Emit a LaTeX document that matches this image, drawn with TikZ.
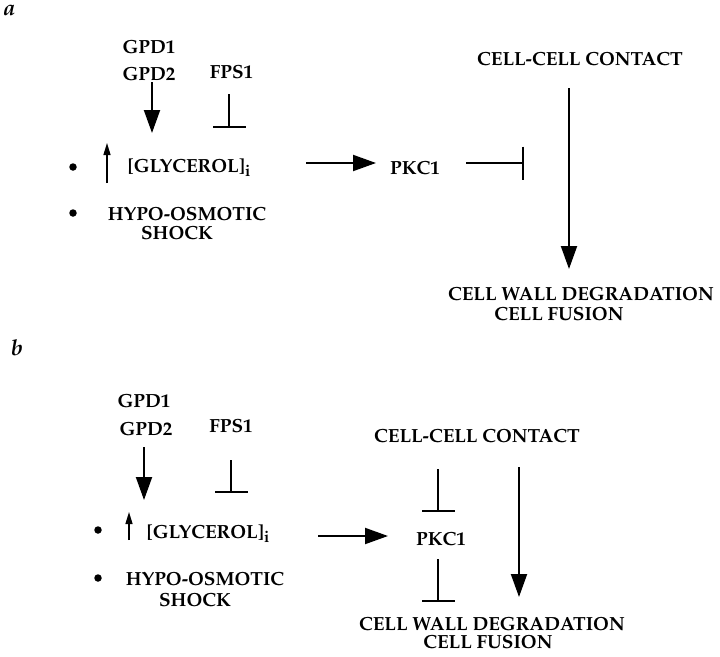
\documentclass[tikz,border=0pt]{standalone}
\usepackage[T1]{fontenc}
\usepackage{mathpazo}
\usetikzlibrary{arrows.meta}
\newcommand{\subi}{\raisebox{-4.5pt}{\fontsize{16}{16}\selectfont i}}
\tikzset{
  lbl/.style={font=\fontsize{19}{21}\selectfont\bfseries, inner sep=0pt, anchor=base},
  panel/.style={font=\fontsize{22}{24}\selectfont\bfseries\itshape, inner sep=0pt, anchor=base west},
  act/.style={line width=2pt, -{Triangle[length=23pt,width=16pt]}},
  small/.style={line width=1.3pt, -{Triangle[length=12pt,width=7pt]}},
  inh/.style={line width=2pt, -{Bar[width=33pt,line width=2.5pt]}},
  dot/.style={circle, fill=black, inner sep=0pt, minimum size=7.5pt},
}
\begin{document}
\begin{tikzpicture}[x=1pt,y=-1pt]
\useasboundingbox (0,0) rectangle (720,656);
% ---------------- panel a
\node[panel] (la) at (3,15) {a};
\node[lbl] (gpd1a) at (149,53) {GPD1};
\node[lbl] (gpd2a) at (149,80) {GPD2};
\node[lbl] (fps1a) at (231.5,78) {FPS1};
\node[dot] (d1a) at (73,167) {};
\node[dot] (d2a) at (73,213) {};
\node[lbl] (glya) at (189,172) {[GLYCEROL]\subi};
\node[lbl] (hypoa) at (187,220) {HYPO-OSMOTIC};
\node[lbl] (shocka) at (177,239) {SHOCK};
\node[lbl] (pkca) at (415,174) {PKC1};
\node[lbl] (cca) at (580,65.5) {CELL-CELL CONTACT};
\node[lbl] (cwa) at (581,300) {CELL WALL DEGRADATION};
\node[lbl] (cfa) at (559,320) {CELL FUSION};
\coordinate (ga1) at (152,82);   \coordinate (ga2) at (152,133);
\coordinate (fa1) at (229,94);   \coordinate (fa2) at (229,128);
\coordinate (ua1) at (107,183);  \coordinate (ua2) at (107,143);
\coordinate (pa1) at (306,163);  \coordinate (pa2) at (376,163);
\coordinate (ka1) at (466,163);  \coordinate (ka2) at (524,163);
\coordinate (ca1) at (569,88);   \coordinate (ca2) at (569,269);
\draw[act] (ga1) -- (ga2);
\draw[inh] (fa1) -- (fa2);
\draw[small] (ua1) -- (ua2);
\draw[act] (pa1) -- (pa2);
\draw[inh] (ka1) -- (ka2);
\draw[act] (ca1) -- (ca2);
% ---------------- panel b
\node[panel] (lb) at (11,355) {b};
\node[lbl] (gpd1b) at (144,407) {GPD1};
\node[lbl] (gpd2b) at (146,435) {GPD2};
\node[lbl] (fps1b) at (231,432) {FPS1};
\node[dot] (d1b) at (98,530) {};
\node[dot] (d2b) at (98,578) {};
\node[lbl] (glyb) at (208,538) {[GLYCEROL]\subi};
\node[lbl] (hypob) at (205,585) {HYPO-OSMOTIC};
\node[lbl] (shockb) at (195,606) {SHOCK};
\node[lbl] (pkcb) at (441,545) {PKC1};
\node[lbl] (ccb) at (477,442) {CELL-CELL CONTACT};
\node[lbl] (cwb) at (492,630) {CELL WALL DEGRADATION};
\node[lbl] (cfb) at (488,648) {CELL FUSION};
\coordinate (gb1) at (144,447);  \coordinate (gb2) at (144,500);
\coordinate (fb1) at (231,460);  \coordinate (fb2) at (231,493);
\coordinate (ub1) at (129,540);  \coordinate (ub2) at (129,512);
\coordinate (pb1) at (318,536);  \coordinate (pb2) at (388,536);
\coordinate (tb1) at (438,469);  \coordinate (tb2) at (438,512);
\coordinate (bb1) at (438,559);  \coordinate (bb2) at (438,602);
\coordinate (cb1) at (519,467);  \coordinate (cb2) at (519,597);
\draw[act] (gb1) -- (gb2);
\draw[inh] (fb1) -- (fb2);
\draw[small] (ub1) -- (ub2);
\draw[act] (pb1) -- (pb2);
\draw[inh] (tb1) -- (tb2);
\draw[inh] (bb1) -- (bb2);
\draw[act] (cb1) -- (cb2);
\end{tikzpicture}
\end{document}
